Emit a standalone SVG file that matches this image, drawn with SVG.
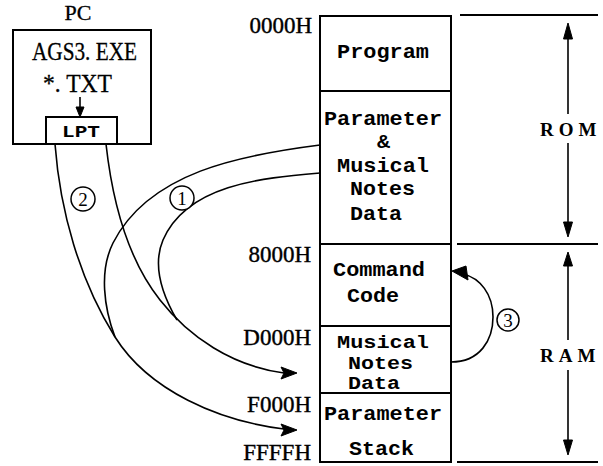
<svg xmlns="http://www.w3.org/2000/svg" width="603" height="466" viewBox="0 0 603 466">
<style>
.box{fill:#fff;stroke:#000;stroke-width:2}
.ln{fill:none;stroke:#000;stroke-width:1.6}
.ln2{fill:none;stroke:#000;stroke-width:2}
.mono{font-family:"Liberation Mono","DejaVu Sans Mono",monospace;font-weight:bold;font-size:21px;fill:#000}
.tight{font-size:19px}
.addr{font-family:"Liberation Serif","Times New Roman",serif;font-size:23px;fill:#000;text-anchor:end;stroke:#000;stroke-width:0.4}
.serif{font-family:"Liberation Serif","Times New Roman",serif;font-size:25px;fill:#000;text-anchor:middle;stroke:#000;stroke-width:0.3}
.lab{font-family:"Liberation Serif","Times New Roman",serif;font-weight:bold;font-size:19px;fill:#000;letter-spacing:5px}
.num{font-family:"Liberation Serif","Times New Roman",serif;font-size:19px;fill:#000;text-anchor:middle}
.ah{fill:#000;stroke:#000;stroke-width:1}
</style>
<rect width="603" height="466" fill="#fff"/>

<g id="pc">
  <text class="serif" x="78" y="20" style="font-size:22px">PC</text>
  <rect class="box" x="13" y="30" width="138" height="114"/>
  <text class="serif" x="84.5" y="60" textLength="105" lengthAdjust="spacingAndGlyphs">AGS3. EXE</text>
  <text class="serif" x="77.5" y="92" textLength="69" lengthAdjust="spacingAndGlyphs">*. TXT</text>
</g>
<g id="lpt">
  <rect class="box" x="46" y="117" width="71" height="27"/>
  <text class="mono" x="62" y="137" style="font-size:17px" textLength="38" lengthAdjust="spacingAndGlyphs">LPT</text>
</g>

<g id="memory">
  <g id="mem-program">
    <rect class="box" x="320" y="16" width="131" height="75"/>
    <text class="mono" x="337" y="58" textLength="92" lengthAdjust="spacingAndGlyphs">Program</text>
  </g>
  <g id="mem-param-notes">
    <rect class="box" x="320" y="91" width="131" height="153"/>
    <text class="mono" x="324" y="125" textLength="118" lengthAdjust="spacingAndGlyphs">Parameter</text>
    <text class="mono" x="377" y="148" textLength="13" lengthAdjust="spacingAndGlyphs">&amp;</text>
    <text class="mono" x="337" y="172" textLength="92" lengthAdjust="spacingAndGlyphs">Musical</text>
    <text class="mono" x="350" y="195" textLength="65" lengthAdjust="spacingAndGlyphs">Notes</text>
    <text class="mono" x="350" y="220" textLength="52" lengthAdjust="spacingAndGlyphs">Data</text>
  </g>
  <g id="mem-command">
    <rect class="box" x="320" y="244" width="131" height="82"/>
    <text class="mono" x="333" y="276" textLength="92" lengthAdjust="spacingAndGlyphs">Command</text>
    <text class="mono" x="347" y="302" textLength="52" lengthAdjust="spacingAndGlyphs">Code</text>
  </g>
  <g id="mem-notes">
    <rect class="box" x="320" y="326" width="131" height="67"/>
    <text class="mono tight" x="337" y="348" textLength="92" lengthAdjust="spacingAndGlyphs">Musical</text>
    <text class="mono tight" x="348" y="369" textLength="65" lengthAdjust="spacingAndGlyphs">Notes</text>
    <text class="mono tight" x="348" y="389" textLength="52" lengthAdjust="spacingAndGlyphs">Data</text>
  </g>
  <g id="mem-stack">
    <rect class="box" x="320" y="393" width="131" height="69"/>
    <text class="mono" x="324" y="420" textLength="118" lengthAdjust="spacingAndGlyphs">Parameter</text>
    <text class="mono" x="349" y="455" textLength="65" lengthAdjust="spacingAndGlyphs">Stack</text>
  </g>
</g>

<g id="addresses">
  <text class="addr" x="312" y="33">0000H</text>
  <text class="addr" x="311" y="262">8000H</text>
  <text class="addr" x="311" y="345">D000H</text>
  <text class="addr" x="311" y="412">F000H</text>
  <text class="addr" x="311" y="460">FFFFH</text>
</g>

<g id="rom-range">
  <line class="ln2" x1="460" y1="15" x2="598" y2="15"/>
  <line class="ln" x1="568" y1="36" x2="568" y2="114"/>
  <line class="ln" x1="568" y1="143" x2="568" y2="225"/>
  <polygon class="ah" points="568,23 563.5,39 572.5,39"/>
  <polygon class="ah" points="568,237 563.5,222 572.5,222"/>
  <text class="lab" x="540" y="136">ROM</text>
</g>
<g id="ram-range">
  <line class="ln2" x1="457" y1="244" x2="598" y2="244"/>
  <line class="ln" x1="568" y1="262" x2="568" y2="340"/>
  <line class="ln" x1="568" y1="370" x2="568" y2="442"/>
  <polygon class="ah" points="568,252 563.5,266 572.5,266"/>
  <polygon class="ah" points="568,455 563.5,440 572.5,440"/>
  <text class="lab" x="540" y="362">RAM</text>
  <line class="ln2" x1="457" y1="462" x2="598" y2="462"/>
</g>

<g id="connectors">
  <line class="ln" x1="80" y1="97" x2="80" y2="108"/>
  <polygon class="ah" points="80,117 76,107 84,107"/>

  <path class="ln" d="M106,144 C112,198 126,257 160,300 C189,337 232,366 284,373"/>
  <path class="ln" d="M55,144 C60,211 79.5,280 115,337 C149,391 219,421 284,429"/>
  <path class="ln" d="M320,145 C241,155 149,172 113,243 C99,271 104,308 115,337"/>
  <path class="ln" d="M320,173 C260,178 187,185 163,240 C152,266 163,296 177,320"/>
  <polygon class="ah" points="297,373 281,367 284,373 281,379"/>
  <polygon class="ah" points="297,430 281,424 284,430 281,436"/>

  <path class="ln" d="M451,362 C480,362 493,340 493,317 C493,294 480,278 463,274"/>
  <polygon class="ah" points="452,271 466,266 468,280"/>

  <g id="label-1"><circle cx="182" cy="198" r="12" fill="#fff" stroke="#000" stroke-width="1.5"/><text class="num" x="182" y="205">1</text></g>
  <g id="label-2"><circle cx="83" cy="199" r="12" fill="#fff" stroke="#000" stroke-width="1.5"/><text class="num" x="83" y="206">2</text></g>
  <g id="label-3"><circle cx="508" cy="320" r="11" fill="#fff" stroke="#000" stroke-width="1.5"/><text class="num" x="508" y="327">3</text></g>
</g>
</svg>
